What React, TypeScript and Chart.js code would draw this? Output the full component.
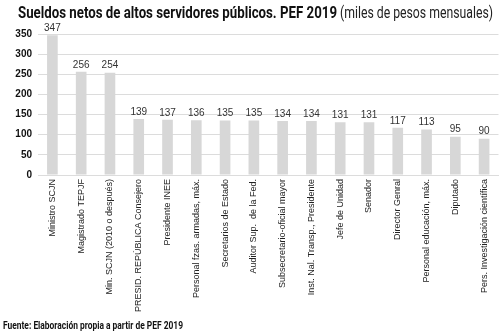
import React, { useEffect, useRef } from "react";
import { Chart, registerables } from "chart.js";

Chart.register(...registerables);

const categories = [
  "Ministro SCJN",
  "Magistrado TEPJF",
  "Min. SCJN (2010 o después)",
  "PRESID. REPÚBLICA Consejero",
  "Presidente INEE",
  "Personal fzas. armadas, máx.",
  "Secretarios de Estado",
  "Auditor Sup.  de la Fed.",
  "Subsecretario-oficial mayor",
  "Inst. Nal. Transp., Presidente",
  "Jefe de Unidad",
  "Senador",
  "Director Genral",
  "Personal educación, máx.",
  "Diputado",
  "Pers. Investigación científica",
];
const values = [347, 256, 254, 139, 137, 136, 135, 135, 134, 134, 131, 131, 117, 113, 95, 90];
const titleBold = "Sueldos netos de altos servidores públicos. PEF 2019";
const titleLight = "(miles de pesos mensuales)";
const footer = "Fuente: Elaboración propia a partir de PEF 2019";

function drawScaled(ctx: CanvasRenderingContext2D, text: string, x: number, y: number, width: number, font: string, color: string) {
  ctx.save();
  ctx.font = font;
  ctx.fillStyle = color;
  ctx.textBaseline = "alphabetic";
  ctx.textAlign = "left";
  const w = ctx.measureText(text).width;
  ctx.translate(x, y);
  ctx.scale(width / w, 1);
  ctx.fillText(text, 0, 0);
  ctx.restore();
}

const textPlugin = {
  id: "textPlugin",
  afterDatasetsDraw(chart: any) {
    const ctx = chart.ctx as CanvasRenderingContext2D;
    const meta = chart.getDatasetMeta(0);
    ctx.save();
    ctx.font = "10px 'Liberation Sans'";
    ctx.fillStyle = "#333";
    ctx.textAlign = "center";
    ctx.textBaseline = "bottom";
    meta.data.forEach((bar: any, i: number) => {
      ctx.fillText(String(values[i]), bar.x, bar.y - 2);
    });
    ctx.restore();
    drawScaled(ctx, titleBold, 18, 18, 319, "bold 16px Roboto", "#111");
    drawScaled(ctx, titleLight, 340, 18, 153, "16px Roboto", "#222");
    drawScaled(ctx, footer, 3, 329, 180, "bold 10px Roboto", "#111");
  },
};

export default function App() {
  const ref = useRef<HTMLCanvasElement>(null);
  useEffect(() => {
    document.body.style.margin = "0";
    const chart = new Chart(ref.current!, {
      type: "bar",
      data: {
        labels: categories,
        datasets: [
          {
            data: values,
            backgroundColor: "#d7d7d7",
            barPercentage: 0.37,
            categoryPercentage: 1,
          },
        ],
      },
      options: {
        animation: false,
        responsive: false,
        layout: { padding: { top: 34, left: 0, right: 1.5, bottom: 0 } },
        plugins: { legend: { display: false }, tooltip: { enabled: false } },
        scales: {
          x: {
            grid: { display: false, drawTicks: false },
            border: { color: "#dcdcdc", width: 1 },
            afterFit: (s: any) => {
              s.height = 158;
            },
            ticks: {
              maxRotation: 90,
              minRotation: 90,
              autoSkip: false,
              padding: 4,
              color: "#222",
              font: { family: "'Liberation Sans'", size: 9 },
            },
          },
          y: {
            min: 0,
            max: 350,
            grid: { color: "#dcdcdc", drawTicks: false },
            border: { display: false },
            afterFit: (s: any) => {
              s.width = 38;
            },
            ticks: {
              stepSize: 50,
              padding: 6,
              color: "#111",
              font: { family: "'Liberation Sans'", size: 10, weight: "bold" },
            },
          },
        },
      },
      plugins: [textPlugin],
    });
    return () => chart.destroy();
  }, []);
  return (
    <div style={{ width: 500, height: 333, position: "relative" }}>
      <canvas ref={ref} width={500} height={333} style={{ display: "block" }} />
    </div>
  );
}
